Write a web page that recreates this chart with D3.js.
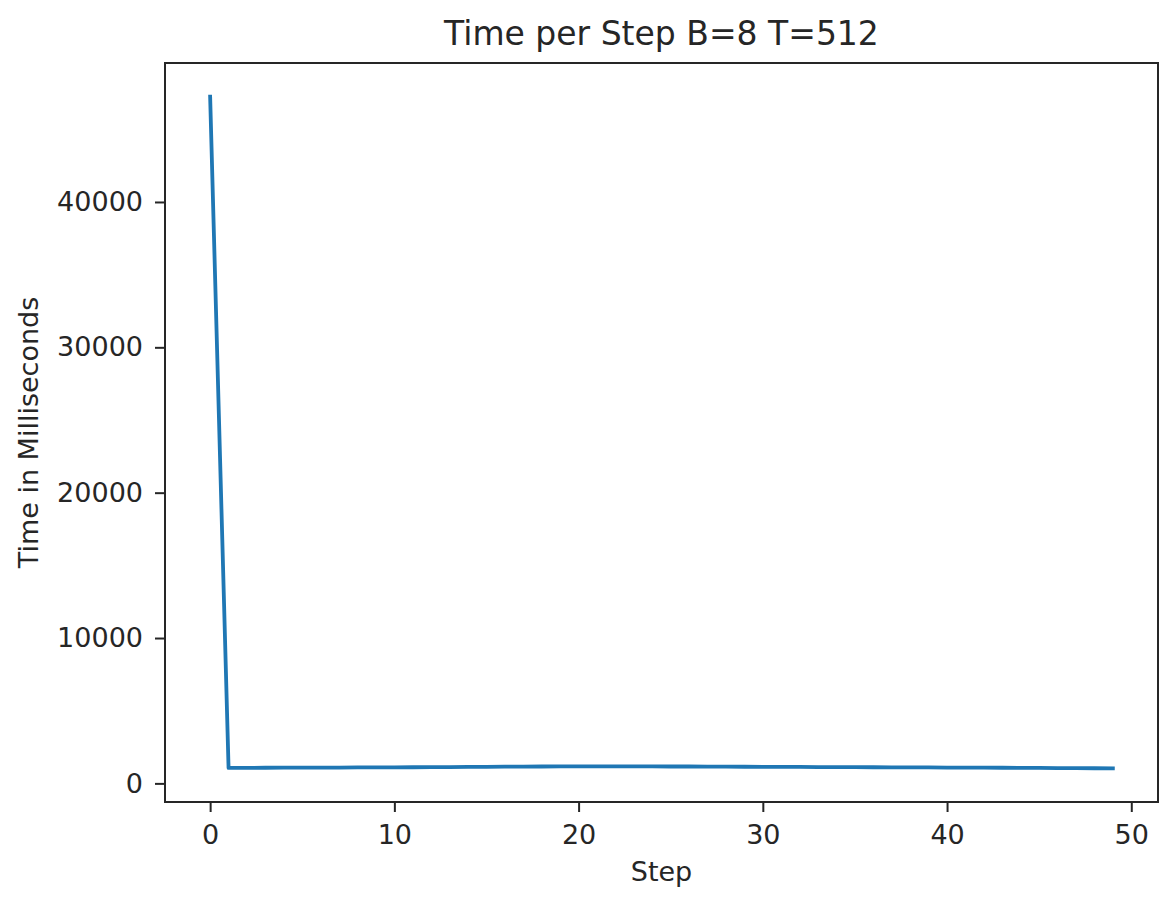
<!DOCTYPE html>
<html>
<head>
<meta charset="utf-8">
<script src="https://cdn.jsdelivr.net/npm/d3@7"></script>
<style>
  html, body { margin: 0; padding: 0; background: #fff; }
  svg { display: block; }
  svg text { font-family: "DejaVu Sans", sans-serif; }
</style>
</head>
<body>
<svg id="chart" width="1174" height="906"></svg>
<script>
// time per step in ms
const steps = d3.range(50)
const times = [
  47250, 1070, 1072, 1075, 1078, 1080, 1085, 1090, 1095, 1100,
  1105, 1110, 1115, 1120, 1130, 1140, 1150, 1155, 1160, 1165,
  1170, 1170, 1170, 1168, 1165, 1162, 1160, 1155, 1150, 1145,
  1140, 1135, 1130, 1125, 1120, 1115, 1110, 1105, 1100, 1095,
  1090, 1085, 1080, 1075, 1070, 1060, 1050, 1045, 1040, 1030
]
const xTicks = [0, 10, 20, 30, 40, 50]
const yTicks = [0, 10000, 20000, 30000, 40000]

const svg = d3.select("#chart")
const box = {left: 165, right: 1158, top: 63, bottom: 802}
const font = "DejaVu Sans, sans-serif"
const ink = "#262626"

// matplotlib style 5% margins
function padded(ext) {
  let m = (ext[1] - ext[0]) * 0.05
  return [ext[0] - m, ext[1] + m]
}

let x = d3.scaleLinear().domain(padded(d3.extent(steps))).range([box.left, box.right])
let y = d3.scaleLinear().domain(padded(d3.extent(times))).range([box.bottom, box.top])

function styleAxis(g) {
  g.attr("font-family", font).attr("font-size", 27)
  g.select(".domain").remove()
  g.selectAll("line").attr("stroke", ink).attr("stroke-width", 2)
  g.selectAll("text").attr("fill", ink)
}

svg.append("g")
  .attr("transform", `translate(0,${box.bottom})`)
  .call(d3.axisBottom(x).tickValues(xTicks).tickFormat(d3.format("d")).tickSize(10).tickPadding(13))
  .call(styleAxis)

svg.append("g")
  .attr("transform", `translate(${box.left},0)`)
  .call(d3.axisLeft(y).tickValues(yTicks).tickFormat(d3.format("d")).tickSize(10).tickPadding(12))
  .call(styleAxis)

svg.append("path")
  .datum(steps)
  .attr("fill", "none")
  .attr("stroke", "#1f77b4")
  .attr("stroke-width", 3.8)
  .attr("stroke-linejoin", "round")
  .attr("stroke-linecap", "square")
  .attr("d", d3.line().x(d => x(d)).y(d => y(times[d])))

svg.append("rect")
  .attr("x", box.left).attr("y", box.top)
  .attr("width", box.right - box.left).attr("height", box.bottom - box.top)
  .attr("fill", "none")
  .attr("stroke", ink)
  .attr("stroke-width", 2)

svg.append("text")
  .text("Time per Step B=8 T=512")
  .attr("x", (box.left + box.right) / 2).attr("y", 45)
  .attr("text-anchor", "middle")
  .attr("fill", ink)
  .attr("font-family", font)
  .attr("font-size", 33)

svg.append("text")
  .text("Step")
  .attr("x", (box.left + box.right) / 2).attr("y", 881)
  .attr("text-anchor", "middle")
  .attr("fill", ink)
  .attr("font-family", font)
  .attr("font-size", 27)

svg.append("text")
  .text("Time in Milliseconds")
  .attr("transform", `translate(38,${(box.top + box.bottom) / 2}) rotate(-90)`)
  .attr("text-anchor", "middle")
  .attr("fill", ink)
  .attr("font-family", font)
  .attr("font-size", 27)
</script>
</body>
</html>
